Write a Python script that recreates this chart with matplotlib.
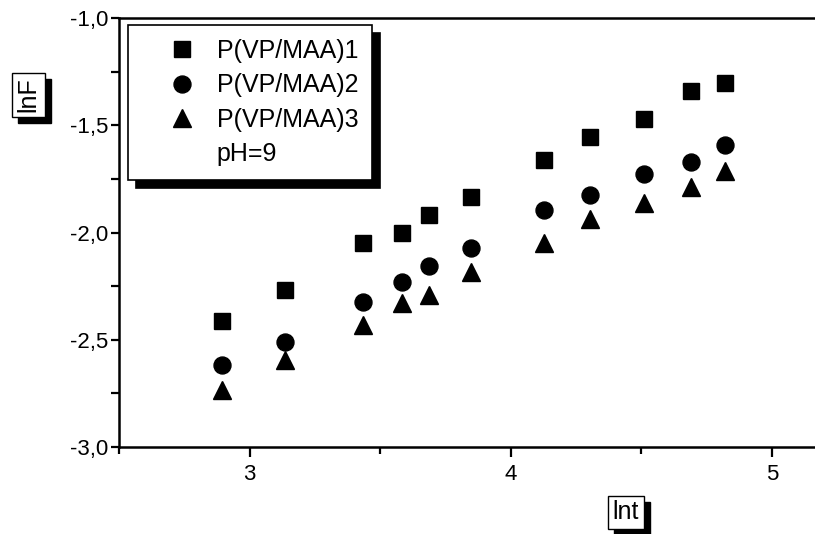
import matplotlib
matplotlib.use("Agg")
import matplotlib.pyplot as plt
from matplotlib.lines import Line2D
from matplotlib.patches import Rectangle
from matplotlib.ticker import MultipleLocator, FuncFormatter

plt.rcParams['font.family'] = ['Liberation Sans', 'DejaVu Sans']

# data
lnt = [2.893, 3.134, 3.434, 3.582, 3.687, 3.849, 4.126, 4.305, 4.510, 4.690, 4.820]
lnF_1 = [-2.411, -2.268, -2.048, -2.004, -1.918, -1.834, -1.662, -1.556, -1.471, -1.339, -1.305]
lnF_2 = [-2.618, -2.509, -2.323, -2.232, -2.156, -2.074, -1.895, -1.825, -1.727, -1.670, -1.592]
lnF_3 = [-2.734, -2.594, -2.431, -2.330, -2.291, -2.183, -2.048, -1.938, -1.864, -1.786, -1.712]
series_labels = ["P(VP/MAA)1", "P(VP/MAA)2", "P(VP/MAA)3"]
note_label = "pH=9"
x_label = "lnt"
y_label = "lnF"

fig = plt.figure(figsize=(8.15, 5.34), dpi=100)
W, H = 815, 534
ax = fig.add_axes([119 / W, (H - 447) / H, 1 - 119 / W, (447 - 18) / H])

l1, = ax.plot(lnt, lnF_1, linestyle='none', marker='s', ms=11.5, color='black', label=series_labels[0])
l2, = ax.plot(lnt, lnF_2, linestyle='none', marker='o', ms=12.2, color='black', label=series_labels[1])
l3, = ax.plot(lnt, lnF_3, linestyle='none', marker='^', ms=13.5, color='black', label=series_labels[2])
blank = Line2D([], [], linestyle='none', marker=None, label=note_label)

ax.set_xlim(2.5, 5.0 + (815 - 772) / 261)
ax.set_ylim(-3.0, -1.0)

ax.xaxis.set_major_locator(MultipleLocator(1))
ax.xaxis.set_minor_locator(MultipleLocator(0.5))
ax.yaxis.set_major_locator(MultipleLocator(0.5))
ax.yaxis.set_minor_locator(MultipleLocator(0.25))
ax.xaxis.set_major_formatter(FuncFormatter(lambda v, p: f"{v:.0f}"))
ax.yaxis.set_major_formatter(FuncFormatter(lambda v, p: f"{v:.1f}".replace('.', ',')))

for s in ['left', 'bottom', 'top']:
    ax.spines[s].set_linewidth(1.8)
ax.spines['right'].set_visible(False)

ax.tick_params(axis='both', which='both', direction='out', width=1.6, labelsize=16)
ax.tick_params(axis='x', which='major', length=7, pad=5)
ax.tick_params(axis='x', which='minor', length=5)
ax.tick_params(axis='y', which='major', length=6, pad=2)
ax.tick_params(axis='y', which='minor', length=6)
ax.tick_params(top=False, right=False, which='both')

leg = ax.legend(handles=[l1, l2, l3, blank], loc='upper left',
                bbox_to_anchor=(128 / W, 1 - 25 / H), bbox_transform=fig.transFigure,
                borderaxespad=0, fontsize=18, borderpad=0.55, handlelength=3.2,
                handletextpad=-0.2, labelspacing=0.42, fancybox=False,
                shadow={'ox': 6, 'oy': -6, 'facecolor': 'black', 'edgecolor': 'black', 'alpha': 1})
leg.get_frame().set_edgecolor('black')
leg.get_frame().set_linewidth(1.2)
leg.get_frame().set_alpha(1)

label_texts = []
def boxed_label(x, y, text, rotation):
    t = fig.text(x, y, text, color='black', ha='center', va='center', rotation=rotation,
                 fontsize=18, zorder=5,
                 bbox=dict(boxstyle='square,pad=0.18', facecolor='white', edgecolor='black', linewidth=1.0))
    label_texts.append(t)

boxed_label(28 / W, 1 - 95 / H, y_label, 90)
boxed_label(626 / W, 1 - 512 / H, x_label, 0)

fig.canvas.draw()
for t in label_texts:
    bb = t.get_bbox_patch().get_window_extent()
    off = 6
    fig.add_artist(Rectangle(((bb.x0 + off) / W, (bb.y0 - off) / H), bb.width / W, bb.height / H,
                             transform=fig.transFigure, facecolor='black', edgecolor='black', zorder=4))

fig.savefig("out.png", dpi=100)
